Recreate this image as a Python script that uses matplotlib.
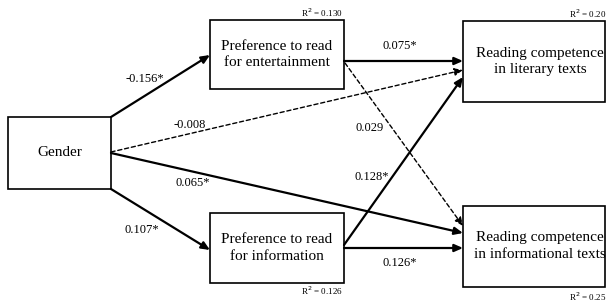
import matplotlib.pyplot as plt
from matplotlib.patches import Rectangle, FancyArrowPatch

# data
nodes = ["Gender",
         "Preference to read\nfor entertainment",
         "Preference to read\nfor information",
         "Reading competence\nin literary texts",
         "Reading competence\nin informational texts"]
r2 = [None, "0.130", "0.126", "0.20", "0.25"]
# (from, to, coefficient, significant)
paths_from = [0, 0, 0, 0, 1, 1, 2, 2]
paths_to = [1, 3, 4, 2, 3, 4, 3, 4]
coefs = ["-0.156*", "-0.008", "0.065*", "0.107*", "0.075*", "0.029", "0.128*", "0.126*"]
signif = [True, False, True, True, True, False, True, True]

# layout in pixel coords (x0, y0, x1, y1)
boxes = [(8, 117, 111, 189),
         (210, 20, 344, 89),
         (210, 213, 344, 283),
         (463, 21, 605, 102),
         (463, 206, 605, 287)]
text_x = [60, 277, 277, 540, 540]
starts = [(111, 117), (111, 152), (111, 153), (111, 189),
          (344, 61), (345, 63), (344, 245), (344, 248)]
ends = [(210, 55), (463, 70), (463, 233), (210, 250),
        (463, 61), (463, 226), (463, 77), (463, 248)]
label_pos = [(145, 79), (190, 125), (193, 183), (142, 230),
             (400, 46), (370, 128), (372, 177), (400, 263)]
r2_pos = [None, (343, 13), (343, 291), (606, 14), (606, 297)]

fig = plt.figure(figsize=(6.06, 3.04), dpi=100)
ax = fig.add_axes([0, 0, 1, 1])
ax.set_xlim(0, 606)
ax.set_ylim(304, 0)
ax.axis("off")

serif = ["Liberation Serif", "DejaVu Serif"]

for i, name in enumerate(nodes):
    x0, y0, x1, y1 = boxes[i]
    ax.add_patch(Rectangle((x0, y0), x1 - x0, y1 - y0, fill=False,
                           edgecolor="black", linewidth=1.2))
    ax.text(text_x[i], (y0 + y1) / 2, name, ha="center", va="center",
            fontsize=11, family=serif, linespacing=1.4)
    if r2[i] is not None:
        ax.text(r2_pos[i][0], r2_pos[i][1], "R$^2$ = " + r2[i], ha="right",
                va="center", fontsize=6.5, family=serif)

for k in range(len(coefs)):
    if signif[k]:
        ls, lw = "solid", 1.6
    else:
        ls, lw = (0, (3, 2)), 1.0
    arr = FancyArrowPatch(starts[k], ends[k], arrowstyle="-|>,head_length=5,head_width=2.2",
                          mutation_scale=1, linewidth=lw, linestyle=ls,
                          color="black", shrinkA=0, shrinkB=0)
    ax.add_patch(arr)
    ax.text(label_pos[k][0], label_pos[k][1], coefs[k], ha="center", va="center",
            fontsize=9, family=serif)

fig.savefig("out.png", dpi=100)
